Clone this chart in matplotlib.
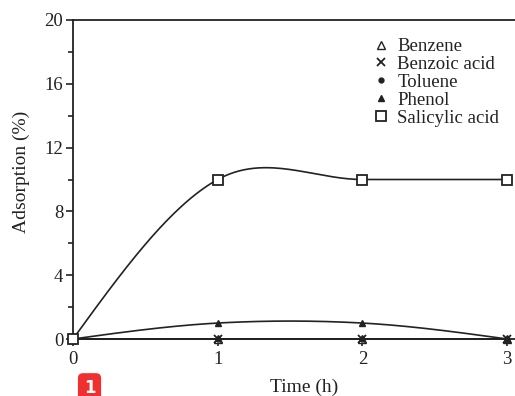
import numpy as np
import matplotlib
matplotlib.use("Agg")
import matplotlib.pyplot as plt

time_h = [0, 1, 2, 3]
benzene = [0, 0, 0, 0]
benzoic_acid = [0, 0, 0, 0]
toluene = [0, 0, 0, 0]
phenol = [0, 1.0, 1.0, 0]
salicylic_acid = [0, 10.0, 10.0, 10.0]

y_ticks = [0, 4, 8, 12, 16, 20]
x_ticks = [0, 1, 2, 3]


def smooth_curve(x, y, n=60):
    """Cubic Hermite curve through the points; interior tangents average the
    neighbouring secants, end tangents give zero curvature at the ends."""
    x = np.asarray(x, float)
    y = np.asarray(y, float)
    sec = np.diff(y) / np.diff(x)
    m = np.empty_like(y)
    m[1:-1] = 0.5 * (sec[:-1] + sec[1:])
    m[0] = (3 * sec[0] - m[1]) / 2
    m[-1] = (3 * sec[-1] - m[-2]) / 2
    xs_all, ys_all = [], []
    for i in range(len(x) - 1):
        h = x[i + 1] - x[i]
        t = np.linspace(0, 1, n)
        h00 = 2 * t ** 3 - 3 * t ** 2 + 1
        h10 = t ** 3 - 2 * t ** 2 + t
        h01 = -2 * t ** 3 + 3 * t ** 2
        h11 = t ** 3 - t ** 2
        xs_all.append(x[i] + t * h)
        ys_all.append(h00 * y[i] + h10 * h * m[i] + h01 * y[i + 1] + h11 * h * m[i + 1])
    return np.concatenate(xs_all), np.concatenate(ys_all)


plt.rcParams['font.family'] = ['Liberation Serif', 'DejaVu Serif']
ink = "#222222"

fig = plt.figure(figsize=(5.15, 3.96), dpi=100)
ax = fig.add_axes([73 / 515, 1 - 339 / 396, (3.2 * 144.7) / 515, (339 - 20) / 396])

lw = 1.2
series = [
    (benzene, dict(marker='^', mfc='white', mec=ink, ms=5.5)),
    (benzoic_acid, dict(marker='x', mec=ink, ms=6, mew=1.3)),
    (toluene, dict(marker='o', mfc=ink, mec=ink, ms=3.5)),
    (phenol, dict(marker='^', mfc=ink, mec=ink, ms=5)),
    (salicylic_acid, dict(marker='s', mfc='white', mec=ink, ms=6.5, mew=1.3)),
]
labels = ["Benzene", "Benzoic acid", "Toluene", "Phenol", "Salicylic acid"]

handles = []
for (vals, mk), lab in zip(series, labels):
    xs, ys = smooth_curve(time_h, vals)
    ax.plot(xs, ys, color=ink, lw=lw, clip_on=False, zorder=2)
    h, = ax.plot(time_h, vals, linestyle='none', clip_on=False, zorder=3, label=lab, **mk)
    handles.append(h)

ax.set_xlim(0, 3.2)
ax.set_ylim(0, 20)
ax.set_xticks(x_ticks)
ax.set_yticks(y_ticks)
ax.set_yticks([2, 6, 10, 14, 18], minor=True)
for s in ax.spines.values():
    s.set_color(ink)
    s.set_linewidth(1.3)
ax.tick_params(axis='both', which='major', direction='out', length=5, width=1.2,
               colors=ink, labelsize=13.5, pad=2)
ax.tick_params(axis='x', which='major', pad=4)
ax.tick_params(axis='y', which='minor', direction='out', length=3.5, width=1.2, colors=ink)
ax.set_xlabel("Time (h)", fontsize=14, color=ink, labelpad=7)
ax.set_ylabel("Adsorption (%)", fontsize=14, color=ink, labelpad=8)
ax.yaxis.set_label_coords(-0.092, 0.525)

leg = ax.legend(handles=handles, loc='upper left', bbox_to_anchor=(372 / 515, 1 - 38 / 396),
                bbox_transform=fig.transFigure,
                frameon=False, fontsize=13.5, handlelength=1.0, handletextpad=0.35,
                labelspacing=0.04, borderpad=0, borderaxespad=0)
for t in leg.get_texts():
    t.set_color(ink)

fig.text(89.5 / 515, 1 - 388 / 396, "1", color='white', fontsize=12, ha='center', va='center',
         family='DejaVu Sans', fontweight='bold',
         bbox=dict(boxstyle='round,pad=0.35,rounding_size=0.3', fc='#f03030', ec='none'))

fig.savefig("out.png", dpi=100)
